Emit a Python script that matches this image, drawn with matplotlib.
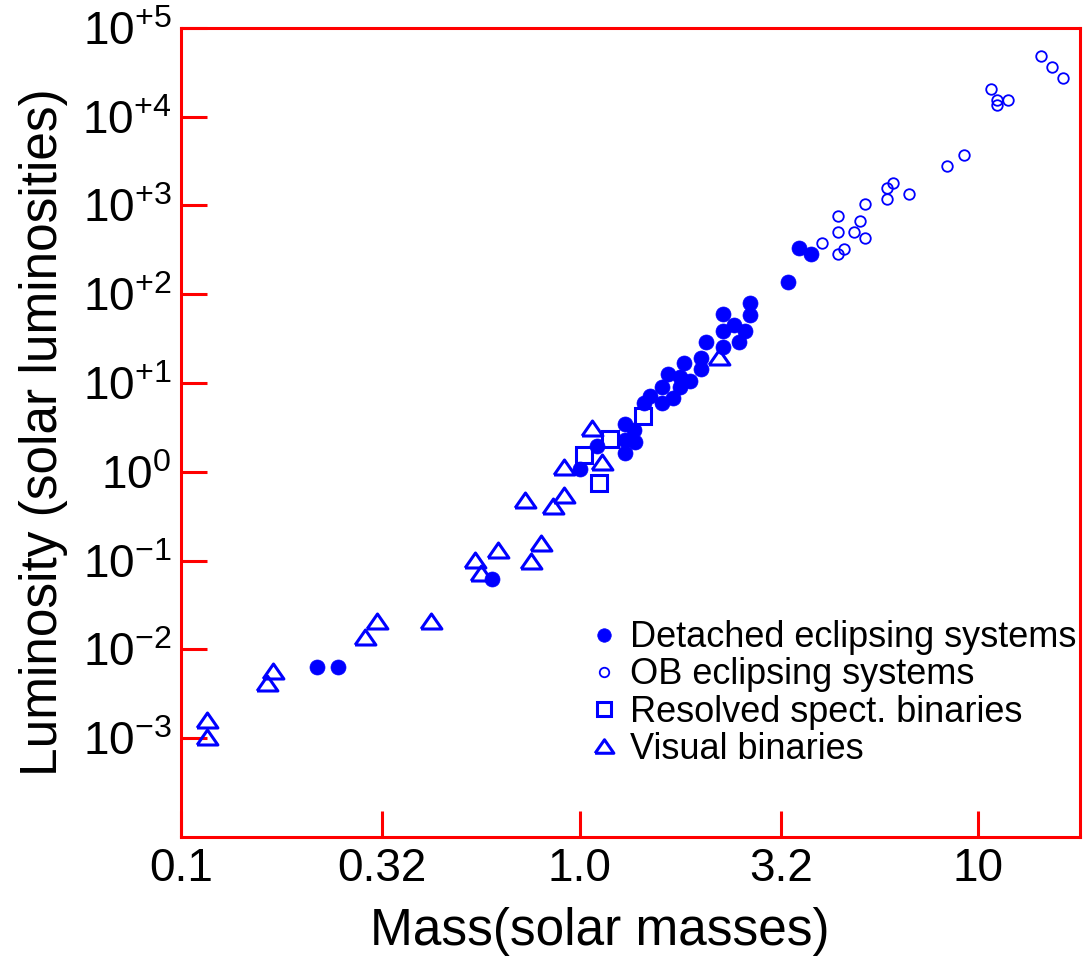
import matplotlib
matplotlib.use('Agg')
import matplotlib.pyplot as plt
from matplotlib.ticker import FixedLocator, FixedFormatter, NullLocator

plt.rcParams['font.family'] = ['Liberation Sans', 'DejaVu Sans']
plt.rcParams['mathtext.fontset'] = 'custom'
plt.rcParams['mathtext.rm'] = 'Liberation Sans'
plt.rcParams['mathtext.it'] = 'Liberation Sans:italic'
plt.rcParams['mathtext.bf'] = 'Liberation Sans:bold'

# detached eclipsing systems (mass, luminosity in solar units)
det_mass = [0.219, 0.248, 0.603, 1.00, 1.103, 1.296, 1.296, 1.296, 1.372, 1.380,
            1.454, 1.505, 1.612, 1.612, 1.718, 1.789, 1.895, 1.789, 1.669, 1.830,
            2.018, 2.018, 2.077, 2.291, 2.512, 2.600, 2.291, 2.441, 2.291, 2.676,
            2.676, 3.331, 3.548, 3.802]
det_lum = [0.0063, 0.0063, 0.0619, 1.07, 1.95, 3.45, 2.28, 1.63, 2.95, 2.16,
           5.95, 7.14, 5.95, 9.01, 6.78, 9.01, 10.5, 11.7, 12.6, 16.8,
           14.4, 19.1, 29.0, 25.4, 29.0, 38.5, 38.5, 45.0, 59.9, 58.4,
           79.7, 137, 332, 284]

# OB eclipsing systems
ob_mass = [14.37, 15.31, 16.31, 10.78, 11.16, 11.16, 11.89, 9.23, 8.37, 6.10,
           5.92, 5.92, 6.72, 5.19, 4.44, 5.04, 4.44, 4.87, 5.19, 4.05, 4.60, 4.44]
ob_lum = [48400, 36400, 27300, 20500, 15400, 13600, 15400, 3710, 2790, 1790,
          1570, 1180, 1350, 1040, 762, 668, 502, 502, 431, 378, 324, 284]

# resolved spectroscopic binaries
sb_mass = [1.023, 1.189, 1.116, 1.445]
sb_lum = [1.55, 2.34, 0.747, 4.25]

# visual binaries
vb_mass = [0.116, 0.116, 0.170, 0.164, 0.311, 0.290, 0.424, 0.546, 0.566, 0.624,
           0.754, 0.799, 0.729, 0.856, 0.912, 0.912, 1.072, 1.135, 2.24]
vb_lum = [0.0016, 0.00103, 0.0057, 0.0042, 0.0208, 0.0137, 0.0208, 0.101, 0.0723, 0.131,
          0.0986, 0.157, 0.481, 0.411, 0.547, 1.13, 3.11, 1.29, 19.6]

x_ticks = [0.1, 0.32, 1.0, 3.2, 10]
x_labels = ['0.1', '0.32', '1.0', '3.2', '10']
y_exps = [-3, -2, -1, 0, 1, 2, 3, 4, 5]

blue = '#0000ff'
red = '#ff0000'
wide_tri = [(-1, -0.72), (1, -0.72), (0, 0.72), (-1, -0.72)]

fig = plt.figure(figsize=(10.85, 9.58), dpi=100)
ax = fig.add_axes([0.1668, 0.1263, 0.8286, 0.8445])
ax.set_xscale('log')
ax.set_yscale('log')

ax.plot(vb_mass, vb_lum, linestyle='none', marker=wide_tri, ms=15, mfc='none',
        mec=blue, mew=2.2, label='Visual binaries', zorder=3)
ax.plot(sb_mass, sb_lum, linestyle='none', marker='s', ms=11, mfc='none',
        mec=blue, mew=2.2, label='Resolved spect. binaries', zorder=3)
ax.plot(det_mass, det_lum, linestyle='none', marker='o', ms=10.8, mfc=blue,
        mec=blue, mew=0.5, label='Detached eclipsing systems', zorder=4)
ax.plot(ob_mass, ob_lum, linestyle='none', marker='o', ms=7.6, mfc='none',
        mec=blue, mew=1.3, label='OB eclipsing systems', zorder=4)

ax.set_xlim(0.1, 18.0)
ax.set_ylim(10 ** -4.115, 1e5)

ax.xaxis.set_major_locator(FixedLocator(x_ticks))
ax.xaxis.set_major_formatter(FixedFormatter(x_labels))
ax.xaxis.set_minor_locator(NullLocator())
y_ticks = [10.0 ** e for e in y_exps]
y_labels = ['$10^{0}$' if e == 0 else '$10^{%+d}$' % e for e in y_exps]
ax.yaxis.set_major_locator(FixedLocator(y_ticks))
ax.yaxis.set_major_formatter(FixedFormatter(y_labels))
ax.yaxis.set_minor_locator(NullLocator())

for s in ax.spines.values():
    s.set_color(red)
    s.set_linewidth(2.2)
ax.tick_params(which='major', direction='in', length=18.7, width=2.2, color=red,
               labelsize=33, pad=7, labelcolor='black')

ax.set_xlabel('Mass(solar masses)', fontsize=37, labelpad=12, x=0.466)
ax.set_ylabel('Luminosity (solar luminosities)', fontsize=37, labelpad=10)

h, l = ax.get_legend_handles_labels()
order = [2, 3, 1, 0]
ax.legend([h[i] for i in order], [l[i] for i in order], loc='upper left',
          bbox_to_anchor=(0.453, 0.268), frameon=False, fontsize=26, numpoints=1,
          handlelength=0.9, handletextpad=0.25, labelspacing=0.06, borderpad=0,
          borderaxespad=0, markerscale=0.9)

fig.savefig('out.png', dpi=100)
